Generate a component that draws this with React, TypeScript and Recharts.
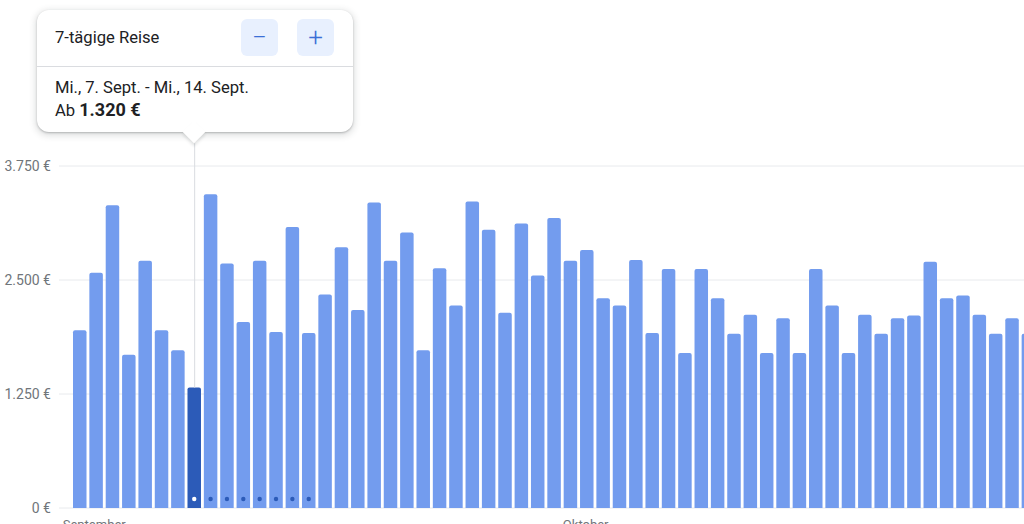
import React from "react"
import { BarChart, Bar, XAxis, YAxis, CartesianGrid, ReferenceLine, Rectangle } from "recharts"

// Abflugtage (31.08. bis 28.10.)
const dates = [
  "31.08.", "01.09.", "02.09.", "03.09.", "04.09.", "05.09.", "06.09.", "07.09.", "08.09.", "09.09.",
  "10.09.", "11.09.", "12.09.", "13.09.", "14.09.", "15.09.", "16.09.", "17.09.", "18.09.", "19.09.",
  "20.09.", "21.09.", "22.09.", "23.09.", "24.09.", "25.09.", "26.09.", "27.09.", "28.09.", "29.09.",
  "30.09.", "01.10.", "02.10.", "03.10.", "04.10.", "05.10.", "06.10.", "07.10.", "08.10.", "09.10.",
  "10.10.", "11.10.", "12.10.", "13.10.", "14.10.", "15.10.", "16.10.", "17.10.", "18.10.", "19.10.",
  "20.10.", "21.10.", "22.10.", "23.10.", "24.10.", "25.10.", "26.10.", "27.10.", "28.10.",
]

// Preis je Abflugtag in €
const prices = [
  1950, 2580, 3320, 1680, 2710, 1950, 1730, 1320, 3440, 2680,
  2040, 2710, 1930, 3080, 1920, 2340, 2860, 2170, 3350, 2710,
  3020, 1730, 2630, 2220, 3360, 3050, 2140, 3120, 2550, 3180,
  2710, 2830, 2300, 2220, 2720, 1920, 2620, 1700, 2620, 2300,
  1910, 2120, 1700, 2080, 1700, 2620, 2220, 1700, 2120, 1910,
  2080, 2110, 2700, 2300, 2330, 2120, 1910, 2080, 1910,
]

const yTicks = [0, 1250, 2500, 3750]

const monthLabels: Record<string, string> = {
  "31.08.": "September",
  "30.09.": "Oktober",
}

const selectedDate = "07.09."
const tripDays = 7
const tripTitle = "7-tägige Reise"
const tripRange = "Mi., 7. Sept. - Mi., 14. Sept."

const rows = dates.map((date, i) => ({ date, price: prices[i] }))
const selectedIndex = dates.indexOf(selectedDate)

const BAR = "#739cee"
const BAR_DARK = "#2c5bb8"
const GREY = "#70757a"

const formatEuro = (v: number) =>
  String(v).replace(/\B(?=(\d{3})+(?!\d))/g, ".") + " €"

const labelShift: Record<string, number> = { September: -17.5, Oktober: -8 }

const MonthTick = (props: any) => {
  const { x, y, payload } = props
  const label = monthLabels[payload.value]
  if (!label) return null
  return (
    <text x={x + labelShift[label]} y={y + 12.5} textAnchor="start" fontSize={13} fill={GREY}>
      {label}
    </text>
  )
}

const BarShape = (props: any) => {
  const { x, y, width, height, index } = props
  const selected = index === selectedIndex
  const inTrip = index >= selectedIndex && index <= selectedIndex + tripDays
  return (
    <g>
      <Rectangle x={x} y={y} width={width} height={height} radius={[2, 2, 0, 0]} fill={selected ? BAR_DARK : BAR} />
      {inTrip && (
        <circle cx={x + width / 2} cy={y + height - 9} r={2.2} fill={selected ? "#ffffff" : BAR_DARK} />
      )}
    </g>
  )
}

const btn: React.CSSProperties = {
  position: "absolute",
  top: 9,
  width: 37,
  height: 37,
  borderRadius: 6,
  background: "#e8f0fe",
  color: "#3b6fd6",
  fontSize: 26,
  fontWeight: 300,
  lineHeight: "36px",
  textAlign: "center",
}

export default function App() {
  return (
    <div
      style={{
        position: "absolute",
        left: 0,
        top: 0,
        width: 1024,
        height: 524,
        overflow: "hidden",
        background: "#fff",
        fontFamily: "Roboto, Arial, sans-serif",
      }}
    >
      <BarChart width={1037} height={542} data={rows} margin={{ top: 166, right: 0, left: 0, bottom: 2 }}>
        <CartesianGrid vertical={false} stroke="#e8eaed" />
        <XAxis
          dataKey="date"
          axisLine={false}
          tickLine={false}
          interval={0}
          height={32}
          padding={{ left: 13, right: 0 }}
          tick={<MonthTick />}
        />
        <YAxis
          width={59}
          domain={[0, 3750]}
          ticks={yTicks}
          axisLine={false}
          tickLine={false}
          tickFormatter={formatEuro}
          tick={{ fontSize: 14, fill: GREY }}
        />
        <ReferenceLine
          segment={[
            { x: selectedDate, y: prices[selectedIndex] },
            { x: selectedDate, y: 4000 },
          ]}
          stroke="#dadce0"
          ifOverflow="visible"
        />
        <Bar dataKey="price" barSize={13.5} isAnimationActive={false} shape={<BarShape />} />
      </BarChart>

      <div
        style={{
          position: "absolute",
          left: 37,
          top: 10,
          width: 316,
          height: 122,
          background: "#fff",
          borderRadius: 12,
          boxShadow: "0 1px 2px rgba(60,64,67,0.3), 0 2px 6px 2px rgba(60,64,67,0.15)",
          color: "#202124",
          fontSize: 16.6,
        }}
      >
        <div style={{ position: "absolute", left: 18, top: 17, lineHeight: "22px" }}>{tripTitle}</div>
        <div style={{ ...btn, left: 204 }}>−</div>
        <div style={{ ...btn, left: 260 }}>+</div>
        <div style={{ position: "absolute", left: 0, right: 0, top: 56, height: 1, background: "#dadce0" }} />
        <div style={{ position: "absolute", left: 18, top: 67, lineHeight: "22px" }}>{tripRange}</div>
        <div style={{ position: "absolute", left: 18, top: 89, lineHeight: "22px" }}>
          Ab <b style={{ fontSize: 18 }}>{formatEuro(prices[selectedIndex])}</b>
        </div>
      </div>
      <div
        style={{
          position: "absolute",
          left: 186,
          top: 124,
          width: 16,
          height: 16,
          background: "#fff",
          transform: "rotate(45deg)",
          boxShadow: "2px 2px 3px rgba(60,64,67,0.15)",
        }}
      />
    </div>
  )
}
